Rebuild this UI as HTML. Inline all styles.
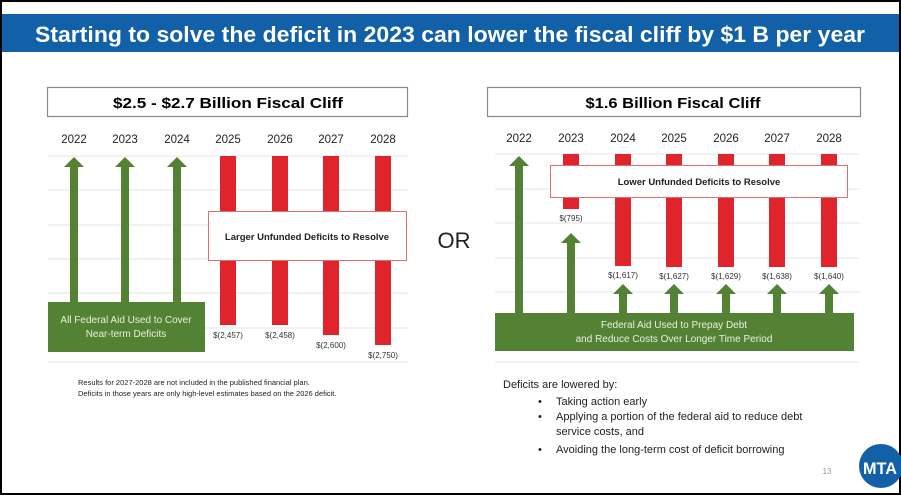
<!DOCTYPE html>
<html><head><meta charset="utf-8"><style>
html,body{margin:0;padding:0;background:#fff}
svg{display:block}
text{font-family:"Liberation Sans",sans-serif}
</style></head><body>
<svg width="901" height="495" viewBox="0 0 901 495" xmlns="http://www.w3.org/2000/svg">
<rect x="0" y="0" width="901" height="495" fill="#fff"/>
<rect x="1" y="1" width="899" height="493" fill="none" stroke="#000" stroke-width="2"/>
<rect x="2" y="14" width="897" height="38" fill="#1260a8"/>
<text x="450" y="42" font-size="22" font-weight="bold" fill="#fff" text-anchor="middle" textLength="830" lengthAdjust="spacingAndGlyphs">Starting to solve the deficit in 2023 can lower the fiscal cliff by $1 B per year</text>

<!-- LEFT CHART -->
<rect x="47.5" y="87.5" width="360" height="29" fill="#fff" stroke="#888" stroke-width="1.2"/>
<text x="228" y="108" font-size="15" font-weight="bold" text-anchor="middle" textLength="230" lengthAdjust="spacingAndGlyphs">$2.5 - $2.7 Billion Fiscal Cliff</text>
<g font-size="11.5" fill="#222" text-anchor="middle">
<text x="74" y="143">2022</text><text x="125" y="143">2023</text><text x="177" y="143">2024</text><text x="228" y="143">2025</text><text x="280" y="143">2026</text><text x="331" y="143">2027</text><text x="383" y="143">2028</text>
</g>
<g stroke="#e4e4e4" stroke-width="1">
<line x1="48" y1="156" x2="408" y2="156"/><line x1="48" y1="190" x2="408" y2="190"/><line x1="48" y1="225" x2="408" y2="225"/><line x1="48" y1="259" x2="408" y2="259"/><line x1="48" y1="293" x2="408" y2="293"/><line x1="48" y1="328" x2="408" y2="328"/><line x1="48" y1="362" x2="408" y2="362"/>
</g>
<g fill="#e0242c">
<rect x="220" y="156" width="16" height="169"/><rect x="272" y="156" width="16" height="169"/><rect x="323" y="156" width="16" height="179"/><rect x="375" y="156" width="16" height="189"/>
</g>
<g font-size="8" fill="#333" text-anchor="middle">
<text x="228" y="338">$(2,457)</text><text x="280" y="338">$(2,458)</text><text x="331" y="348">$(2,600)</text><text x="383" y="358">$(2,750)</text>
</g>
<g fill="#548235">
<polygon points="74,157 84,167 78,167 78,303 70,303 70,167 64,167"/>
<polygon points="125,157 135,167 129,167 129,303 121,303 121,167 115,167"/>
<polygon points="177,157 187,167 181,167 181,303 173,303 173,167 167,167"/>
<rect x="48" y="302" width="157" height="50"/>
</g>
<text x="126" y="323" font-size="10" fill="#e8f0e0" text-anchor="middle">All Federal Aid Used to Cover</text>
<text x="126" y="337" font-size="10" fill="#e8f0e0" text-anchor="middle">Near-term Deficits</text>
<rect x="208.5" y="211.5" width="198" height="49" fill="#fff" stroke="#e07070" stroke-width="1"/>
<text x="307" y="240" font-size="9.5" font-weight="bold" fill="#222" text-anchor="middle">Larger Unfunded Deficits to Resolve</text>

<text x="454" y="248" font-size="22" fill="#222" text-anchor="middle">OR</text>

<!-- RIGHT CHART -->
<rect x="487.5" y="87.5" width="373" height="29" fill="#fff" stroke="#888" stroke-width="1.2"/>
<text x="673" y="108" font-size="15" font-weight="bold" text-anchor="middle" textLength="175" lengthAdjust="spacingAndGlyphs">$1.6 Billion Fiscal Cliff</text>
<g font-size="11.5" fill="#222" text-anchor="middle">
<text x="519" y="142">2022</text><text x="571" y="142">2023</text><text x="623" y="142">2024</text><text x="674" y="142">2025</text><text x="726" y="142">2026</text><text x="777" y="142">2027</text><text x="829" y="142">2028</text>
</g>
<g stroke="#e4e4e4" stroke-width="1">
<line x1="495" y1="154" x2="860" y2="154"/><line x1="495" y1="189" x2="860" y2="189"/><line x1="495" y1="223" x2="860" y2="223"/><line x1="495" y1="258" x2="860" y2="258"/><line x1="495" y1="292" x2="860" y2="292"/><line x1="495" y1="362" x2="860" y2="362"/>
</g>
<g fill="#e0242c">
<rect x="563" y="154" width="16" height="55"/><rect x="615" y="154" width="16" height="112"/><rect x="666" y="154" width="16" height="113"/><rect x="718" y="154" width="16" height="113"/><rect x="769" y="154" width="16" height="113"/><rect x="821" y="154" width="16" height="113"/>
</g>
<g font-size="8" fill="#333" text-anchor="middle">
<text x="571" y="221">$(795)</text><text x="623" y="278">$(1,617)</text><text x="674" y="279">$(1,627)</text><text x="726" y="279">$(1,629)</text><text x="777" y="279">$(1,638)</text><text x="829" y="279">$(1,640)</text>
</g>
<g fill="#548235">
<polygon points="519,156 529,166 523,166 523,314 515,314 515,166 509,166"/>
<polygon points="571,233 581,243 575,243 575,314 567,314 567,243 561,243"/>
<polygon points="623,284 633,294 627,294 627,314 619,314 619,294 613,294"/>
<polygon points="674,284 684,294 678,294 678,314 670,314 670,294 664,294"/>
<polygon points="726,284 736,294 730,294 730,314 722,314 722,294 716,294"/>
<polygon points="777,284 787,294 781,294 781,314 773,314 773,294 767,294"/>
<polygon points="829,284 839,294 833,294 833,314 825,314 825,294 819,294"/>
<rect x="495" y="313" width="359" height="38"/>
</g>
<text x="674" y="328" font-size="10" fill="#e8f0e0" text-anchor="middle">Federal Aid Used to Prepay Debt</text>
<text x="674" y="342" font-size="10" fill="#e8f0e0" text-anchor="middle">and Reduce Costs Over Longer Time Period</text>
<rect x="550.5" y="165.5" width="297" height="32" fill="#fff" stroke="#e07070" stroke-width="1"/>
<text x="699" y="185" font-size="9.5" font-weight="bold" fill="#222" text-anchor="middle">Lower Unfunded Deficits to Resolve</text>

<!-- Footnotes -->
<text x="78" y="385" font-size="7.5" fill="#222">Results for 2027-2028 are not included in the published financial plan.</text>
<text x="78" y="396" font-size="7.5" fill="#222">Deficits in those years are only high-level estimates based on the 2026 deficit.</text>

<g font-size="11" fill="#222">
<text x="503" y="388">Deficits are lowered by:</text>
<text x="538" y="405">•</text><text x="556" y="405">Taking action early</text>
<text x="538" y="420">•</text><text x="556" y="420">Applying a portion of the federal aid to reduce debt</text>
<text x="556" y="435">service costs, and</text>
<text x="538" y="453">•</text><text x="556" y="453">Avoiding the long-term cost of deficit borrowing</text>
</g>
<text x="827" y="474" font-size="8" fill="#999" text-anchor="middle">13</text>
<circle cx="881" cy="466" r="22" fill="#1260a8"/>
<text x="880" y="474" font-size="17" font-weight="bold" fill="#fff" text-anchor="middle" textLength="34" lengthAdjust="spacingAndGlyphs">MTA</text>
</svg>
</body></html>
